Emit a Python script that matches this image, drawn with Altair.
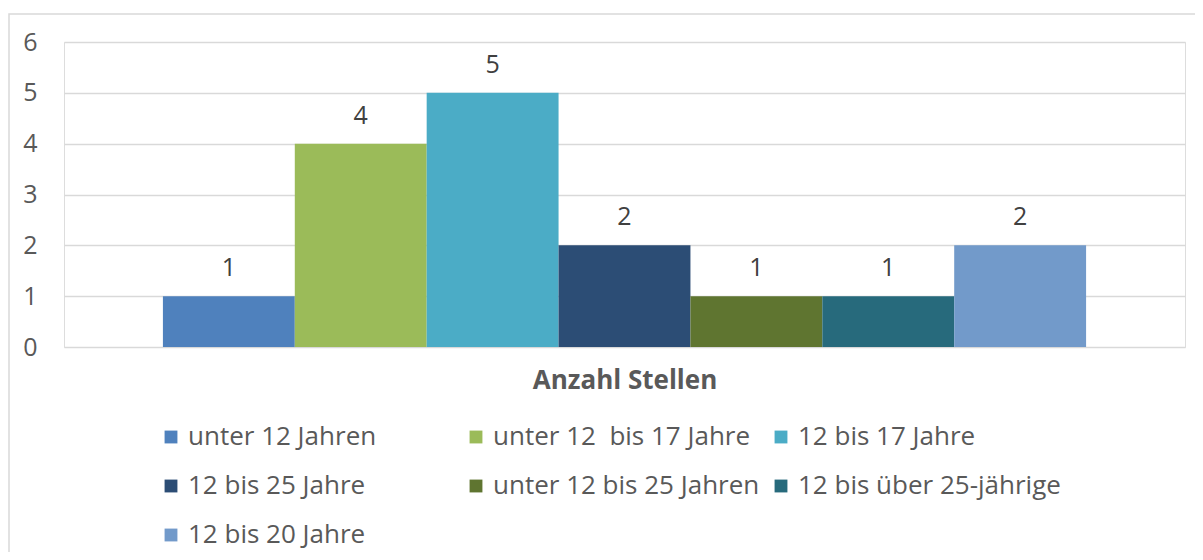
import altair as alt
import pandas as pd

series = ["unter 12 Jahren", "unter 12\u00a0 bis 17 Jahre", "12 bis 17 Jahre",
          "12 bis 25 Jahre", "unter 12 bis 25 Jahren", "12 bis über 25-jährige",
          "12 bis 20 Jahre"]
values = [1, 4, 5, 2, 1, 1, 2]
colors = ["#4F81BD", "#9BBB59", "#4BACC6", "#2C4D75", "#5F7530", "#276A7C", "#729ACA"]
y_ticks = [0, 1, 2, 3, 4, 5, 6]

df = pd.DataFrame({"Serie": series, "Wert": values})
FONT = "Open Sans"
FS = 25

x = alt.X("Serie:N", sort=series,
          scale=alt.Scale(paddingInner=0, paddingOuter=0.75),
          axis=alt.Axis(title="Anzahl Stellen", labels=False, ticks=False, domain=False,
                        titleFontSize=26, titleFontWeight="bold", titleColor="#595959",
                        titleFont=FONT, titlePadding=20))
y = alt.Y("Wert:Q", scale=alt.Scale(domain=[0, 6], nice=False),
          axis=alt.Axis(title=None, values=y_ticks, ticks=False, domain=False,
                        labelFontSize=FS, labelColor="#595959", labelFont=FONT,
                        labelPadding=27, gridColor="#d9d9d9", gridWidth=1.5))

bars = alt.Chart(df).mark_bar().encode(
    x=x, y=y,
    color=alt.Color("Serie:N", sort=series,
                    scale=alt.Scale(domain=series, range=colors),
                    legend=alt.Legend(title=None, orient="none", legendX=94, legendY=382,
                                      direction="horizontal",
                                      columns=3, gridAlign="all", symbolType="square",
                                      symbolSize=165, symbolStrokeWidth=0,
                                      labelFontSize=26, labelColor="#595959", labelFont=FONT,
                                      labelLimit=0, rowPadding=23, columnPadding=8,
                                      labelOffset=4))
)

labels = alt.Chart(df).mark_text(fontSize=FS, color="#404040", font=FONT,
                                 baseline="middle", dy=-28).encode(
    x=alt.X("Serie:N", sort=series), y="Wert:Q", text="Wert:Q")

border = alt.Chart(pd.DataFrame({"a": [0]})).mark_rect(
    fill=None, stroke="#d9d9d9", strokeWidth=1.5, clip=False).encode(
    x=alt.value(-55), x2=alt.value(1160), y=alt.value(-28), y2=alt.value(600))

chart = alt.layer(border, bars, labels).properties(
    width=1121, height=305,
    padding={"left": 56, "top": 34, "right": 10, "bottom": 205},
    autosize=alt.AutoSizeParams(type="none"),
).configure_view(stroke=None).configure(font=FONT)

chart.save("out.html", embed_options={"renderer": "svg", "actions": False})
